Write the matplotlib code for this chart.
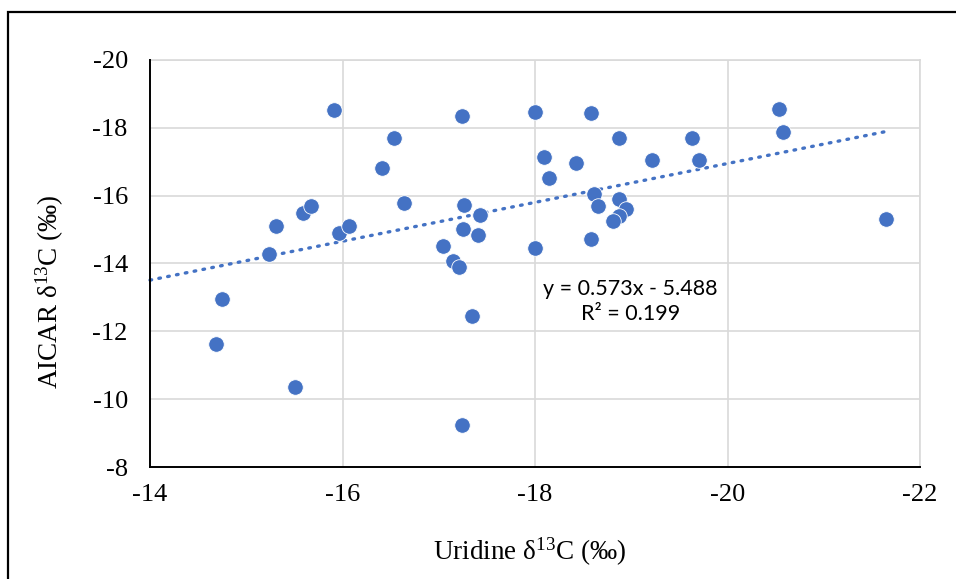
import matplotlib
matplotlib.use("Agg")
import matplotlib.pyplot as plt
import numpy as np
from matplotlib.patches import Rectangle

# Data
uridine = [-14.69, -14.75, -15.24, -15.31, -15.51, -15.59, -15.67, -15.91, -15.96, -16.07,
           -16.41, -16.53, -16.64, -17.04, -17.15, -17.21, -17.24, -17.24, -17.26, -17.25,
           -17.35, -17.41, -17.43, -18.00, -18.00, -18.09, -18.15, -18.43, -18.58, -18.58,
           -18.61, -18.65, -18.87, -18.87, -18.95, -18.87, -18.81, -19.22, -19.63, -19.70,
           -20.54, -20.58, -21.65]
aicar = [-11.62, -12.94, -14.28, -15.12, -10.35, -15.50, -15.70, -18.52, -14.91, -15.11,
         -16.81, -17.71, -15.79, -14.52, -14.08, -13.90, -18.36, -9.24, -15.72, -15.02,
         -12.46, -14.84, -15.44, -18.47, -14.47, -17.14, -16.52, -16.96, -18.44, -14.71,
         -16.05, -15.70, -17.71, -15.89, -15.60, -15.41, -15.25, -17.04, -17.69, -17.05,
         -18.55, -17.87, -15.32]
slope, intercept, r2 = 0.573, -5.488, 0.199
x_ticks = [-14, -16, -18, -20, -22]
y_ticks = [-8, -10, -12, -14, -16, -18, -20]

plt.rcParams['axes.unicode_minus'] = False
plt.rcParams['mathtext.fontset'] = 'custom'
plt.rcParams['mathtext.rm'] = 'Liberation Serif'
plt.rcParams['mathtext.it'] = 'Liberation Serif:italic'

W, H = 956, 579
fig = plt.figure(figsize=(W/100, H/100), dpi=100)
ax = fig.add_axes([150/W, 1-467/H, (920-150)/W, (467-60)/H])

blue = '#4472C4'
grid = '#d9d9d9'

ax.set_xlim(-14, -22)
ax.set_ylim(-8, -20)
ax.set_xticks(x_ticks)
ax.set_yticks(y_ticks)
ax.set_xticklabels([str(v) for v in x_ticks])
ax.set_yticklabels([str(v) for v in y_ticks])
ax.grid(True, color=grid, linewidth=1.2, zorder=0)
ax.set_axisbelow(True)

for s in ['top', 'right']:
    ax.spines[s].set_color(grid)
    ax.spines[s].set_linewidth(1.2)
for s in ['left', 'bottom']:
    ax.spines[s].set_color('black')
    ax.spines[s].set_linewidth(1.4)
    ax.spines[s].set_zorder(5)

ax.tick_params(length=0, labelsize=19)
ax.tick_params(axis='y', pad=16)
ax.tick_params(axis='x', pad=12)
for lab in ax.get_xticklabels() + ax.get_yticklabels():
    lab.set_fontfamily('Liberation Serif')

# trendline
xt = np.array([-14, max(uridine, key=abs)])
ax.plot(xt, slope*xt + intercept, linestyle=(0, (0.5, 2.2)), color=blue, linewidth=2.4,
        dash_capstyle='round', zorder=2, clip_on=False)

ax.scatter(uridine, aicar, s=125, color=blue, edgecolors='white', linewidths=0.6, zorder=3)

ax.text(-18.99, -12.87, f"y = {slope}x - {abs(intercept)}\nR² = {r2}", ha='center', va='center',
        fontsize=15.5, family='Lato', linespacing=1.3, color='black')

fig.text(530/W, 1-552/H, r"Uridine δ$^{13}$C (‰)", ha='center', va='center', fontsize=19.5,
         family='Liberation Serif')
fig.text(50/W, 1-292/H, r"AICAR δ$^{13}$C (‰)", ha='center', va='center', fontsize=19.5,
         family='Liberation Serif', rotation=90)

# outer border
fig.patches.append(Rectangle((8/W, -0.05), 1.1, 1-12/H+0.05, transform=fig.transFigure,
                             fill=False, edgecolor='black', linewidth=1.6))

fig.savefig('out.png', dpi=100)
